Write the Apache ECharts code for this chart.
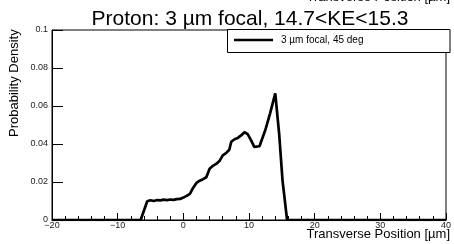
<!DOCTYPE html>
<html>
    <head>
        <meta charset="UTF-8">
        <title>Proton: 3 µm focal</title>
        <script src="https://cdn.jsdelivr.net/npm/echarts@6/dist/echarts.min.js"></script>
    </head>
    <body style="margin:0;background:#fff;">
        <div id="main" style="width:454px;height:244px;"></div>
        <script>
            // transverse position (µm) and probability density
            var positions = [-20, -6.5, -5.5, -5.0, -4.5, -4.0, -3.5, -3.0, -2.5, -2.0, -1.5, -1.0, -0.5, 0, 0.5,
                1.0, 1.5, 2.0, 2.5, 3.0, 3.5, 4.0, 4.5, 5.0, 5.5, 6.0, 6.5, 7.0, 7.3, 7.8, 8.3, 8.8, 9.3, 9.8,
                10.3, 10.8, 11.1, 11.6, 12.5, 13.2, 14.0, 14.6, 15.1, 15.8, 40];
            var density = [0, 0, 0.0099, 0.0104, 0.0100, 0.0105, 0.0103, 0.0107, 0.0105, 0.0108, 0.0106, 0.0110, 0.0111, 0.0118, 0.0127,
                0.0138, 0.0170, 0.0195, 0.0207, 0.0215, 0.0225, 0.0270, 0.0285, 0.0295, 0.0310, 0.0340, 0.0352, 0.0370, 0.0412, 0.0425, 0.0432, 0.0445, 0.0462, 0.0452,
                0.0420, 0.0385, 0.0382, 0.0388, 0.0475, 0.0560, 0.0666, 0.0450, 0.0210, 0, 0];
            var seriesName = '3 µm focal, 45 deg';
            var yTickLabels = {0: '0', 0.02: '0.02', 0.04: '0.04', 0.06: '0.06', 0.08: '0.08', 0.1: '0.1'};

            var points = [];
            for (var i = 0; i < positions.length; i++) {
                points.push([positions[i], density[i]]);
            }

            var font = 'Liberation Sans, Arial, Helvetica, sans-serif';
            var myChart = echarts.init(document.getElementById('main'));

            var option = {
                animation: false,
                backgroundColor: '#fff',
                grid: {
                    left: 52,
                    right: 4,
                    top: 30,
                    bottom: 24,
                    show: true,
                    borderColor: '#000',
                    borderWidth: 1
                },
                xAxis: {
                    type: 'value',
                    min: -20,
                    max: 40,
                    interval: 10,
                    axisLine: {onZero: false, lineStyle: {color: '#000', width: 1}},
                    axisTick: {inside: true, length: 7, lineStyle: {color: '#000'}},
                    minorTick: {show: true, splitNumber: 5, length: 4, lineStyle: {color: '#000'}},
                    axisLabel: {
                        margin: 1,
                        fontSize: 9,
                        color: '#222',
                        fontFamily: font,
                        formatter: function (v) {
                            return v < 0 ? '\u2212' + Math.abs(v) : String(v);
                        }
                    },
                    splitLine: {show: false}
                },
                yAxis: {
                    type: 'value',
                    min: 0,
                    max: 0.1,
                    interval: 0.02,
                    axisLine: {show: true, onZero: false, lineStyle: {color: '#000', width: 1}},
                    axisTick: {show: true, inside: true, length: 11, lineStyle: {color: '#000'}},
                    axisLabel: {
                        margin: 4,
                        fontSize: 9,
                        color: '#222',
                        fontFamily: font,
                        formatter: function (v) {
                            var k = Math.round(v * 100) / 100;
                            return yTickLabels[k] !== undefined ? yTickLabels[k] : '';
                        }
                    },
                    splitLine: {show: false}
                },
                series: [
                    {
                        name: seriesName,
                        type: 'line',
                        data: points,
                        showSymbol: false,
                        symbol: 'none',
                        lineStyle: {color: '#000', width: 2.7},
                        z: 5
                    }
                ],
                graphic: [
                    {
                        type: 'text',
                        style: {
                            text: 'Proton: 3 µm focal, 14.7<KE<15.3',
                            x: 250, y: 19,
                            align: 'center', verticalAlign: 'middle',
                            fontSize: 21, fontFamily: font, fill: '#000'
                        }
                    },
                    {
                        type: 'text',
                        style: {
                            text: 'Transverse Position [µm]',
                            x: 450, y: -9,
                            align: 'right', verticalAlign: 'top',
                            fontSize: 13, fontFamily: font, fill: '#000'
                        }
                    },
                    {
                        type: 'text',
                        style: {
                            text: 'Transverse Position [µm]',
                            x: 450, y: 228,
                            align: 'right', verticalAlign: 'top',
                            fontSize: 13, fontFamily: font, fill: '#000'
                        }
                    },
                    {
                        type: 'text',
                        rotation: Math.PI / 2,
                        x: 14,
                        y: 137,
                        style: {
                            text: 'Probability Density',
                            x: 0, y: 0,
                            align: 'left', verticalAlign: 'middle',
                            fontSize: 13, fontFamily: font, fill: '#000'
                        }
                    },
                    {
                        type: 'rect',
                        shape: {x: 227.5, y: 29.5, width: 222.5, height: 23},
                        style: {fill: '#fff', stroke: '#000', lineWidth: 1},
                        z: 10
                    },
                    {
                        type: 'line',
                        shape: {x1: 234, y1: 40, x2: 273, y2: 40},
                        style: {stroke: '#000', lineWidth: 2.5},
                        z: 11
                    },
                    {
                        type: 'text',
                        style: {
                            text: seriesName,
                            x: 281, y: 40,
                            align: 'left', verticalAlign: 'middle',
                            fontSize: 10, fontFamily: font, fill: '#000'
                        },
                        z: 11
                    }
                ]
            };
            myChart.setOption(option);
        </script>
    </body>
</html>
